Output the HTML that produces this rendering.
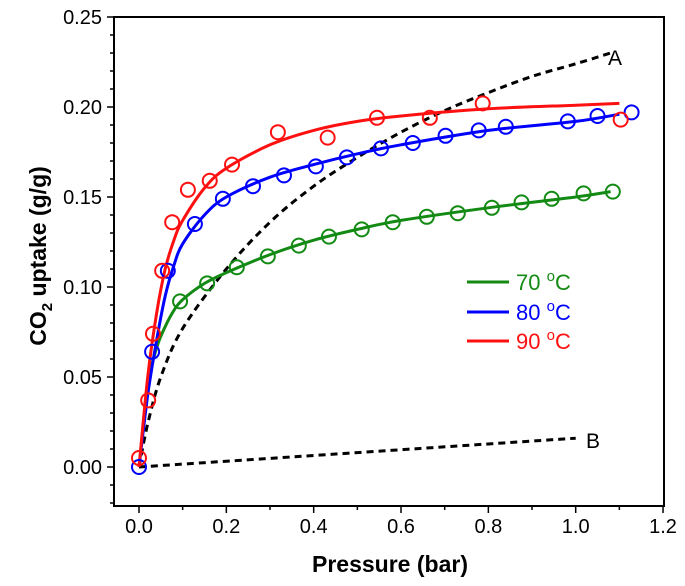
<!DOCTYPE html>
<html><head><meta charset="utf-8"><style>
body{margin:0;background:#fff}
svg{display:block;font-family:"Liberation Sans",Arial,sans-serif}
</style></head><body>
<svg id="c" width="685" height="586"></svg>
<script>
const xTicks=[0,0.2,0.4,0.6,0.8,1.0,1.2];
const xTickLabels=["0.0","0.2","0.4","0.6","0.8","1.0","1.2"];
const yTicks=[0,0.05,0.10,0.15,0.20,0.25];
const yTickLabels=["0.00","0.05","0.10","0.15","0.20","0.25"];
const redPx=[0,0.021,0.032,0.053,0.076,0.112,0.162,0.213,0.318,0.432,0.545,0.666,0.787,1.103];
const redPy=[0.005,0.037,0.074,0.109,0.136,0.154,0.159,0.168,0.186,0.183,0.194,0.194,0.202,0.193];
const bluePx=[0,0.03,0.066,0.128,0.192,0.261,0.332,0.405,0.476,0.554,0.627,0.702,0.778,0.84,0.982,1.05,1.128];
const bluePy=[0,0.064,0.109,0.135,0.149,0.156,0.162,0.167,0.172,0.177,0.18,0.184,0.187,0.189,0.192,0.195,0.197];
const greenPx=[0.094,0.156,0.224,0.295,0.366,0.435,0.51,0.581,0.659,0.73,0.808,0.876,0.945,1.018,1.085];
const greenPy=[0.092,0.102,0.111,0.117,0.123,0.128,0.132,0.136,0.139,0.141,0.144,0.147,0.149,0.152,0.153];
const fitX=[0,0.02,0.04,0.06,0.08,0.1,0.15,0.2,0.3,0.4,0.5,0.6,0.8,1.0,1.1];
const redFit=[0,0.05,0.085,0.11,0.126,0.137,0.155,0.166,0.179,0.187,0.192,0.195,0.199,0.201,0.202];
const blueFit=[0,0.04,0.07,0.095,0.112,0.124,0.14,0.15,0.161,0.168,0.174,0.179,0.187,0.192,0.196];
const greenFitX=[0,0.02,0.04,0.06,0.08,0.1,0.15,0.2,0.3,0.4,0.5,0.6,0.8,1.0,1.08];
const greenFit=[0,0.045,0.066,0.078,0.087,0.093,0.102,0.108,0.118,0.126,0.132,0.137,0.144,0.15,0.153];
const aX=[0,0.02,0.05,0.1,0.2,0.3,0.4,0.5,0.6,0.7,0.8,0.9,1.0,1.08];
const aY=[0,0.024,0.05,0.077,0.11,0.136,0.156,0.172,0.186,0.198,0.208,0.217,0.224,0.23];
const bX=[0,1.0];
const bY=[0,0.016];

const NS="http://www.w3.org/2000/svg";
const svg=document.getElementById('c');
const X0=139,XS=436.7,Y0=467,YS=1800;
const L=114,R=664,T=17,B=506;
function sx(v){return X0+v*XS;}
function sy(v){return Y0-v*YS;}
function mk(tag,attrs,parent){const e=document.createElementNS(NS,tag);for(const k in attrs)e.setAttribute(k,attrs[k]);(parent||svg).appendChild(e);return e;}

const frame=mk('rect',{x:L,y:T,width:R-L,height:B-T,fill:'none',stroke:'#000','stroke-width':2});



for(let v=0;v<=1.2001;v+=0.1){
  const major=Math.abs(v*5-Math.round(v*5))<1e-6;
  const t=mk('line',{x1:sx(v),x2:sx(v),y1:B,y2:B+(major?7:4),stroke:'#000','stroke-width':1.5});
  
  
}
xTicks.forEach((v,i)=>{
  const t=mk('text',{x:sx(v),y:533,'font-size':20,'text-anchor':'middle',fill:'#000'});
  t.textContent=xTickLabels[i];
  
  
});
for(let k=-2;k<=25;k++){
  const v=k/100;
  const major=k%5===0;
  const t=mk('line',{x1:L,x2:L-(major?7:4),y1:sy(v),y2:sy(v),stroke:'#000','stroke-width':1.5});
  
  
}
yTicks.forEach((v,i)=>{
  const t=mk('text',{x:102,y:sy(v)+7,'font-size':20,'text-anchor':'end',fill:'#000'});
  t.textContent=yTickLabels[i];
  
  
});

const xt=mk('text',{x:390,y:572,'font-size':23,'font-weight':'bold','text-anchor':'middle'});
xt.textContent='Pressure (bar)';


const yt=mk('text',{x:0,y:0,'font-size':23,'font-weight':'bold','text-anchor':'middle',transform:'translate(46,256) rotate(-90)'});
yt.innerHTML='CO<tspan font-size="15" dy="6">2</tspan><tspan dy="-6"> uptake (g/g)</tspan>';



function path(xs,ys,color,dash,name,w){
  const P=xs.map((v,i)=>[sx(v),sy(ys[i])]);
  let d='M'+P[0][0].toFixed(1)+','+P[0][1].toFixed(1);
  for(let i=0;i<P.length-1;i++){
    const p0=P[i-1]||P[i],p1=P[i],p2=P[i+1],p3=P[i+2]||P[i+1];
    const c1=[p1[0]+(p2[0]-p0[0])/6,p1[1]+(p2[1]-p0[1])/6];
    const c2=[p2[0]-(p3[0]-p1[0])/6,p2[1]-(p3[1]-p1[1])/6];
    d+='C'+c1.map(n=>n.toFixed(1))+' '+c2.map(n=>n.toFixed(1))+' '+p2.map(n=>n.toFixed(1));
  }
  const p=mk('path',{d:d,fill:'none',stroke:color,'stroke-width':w,'stroke-dasharray':dash||'none','stroke-linejoin':'round'});
  
  
}
function pts(xs,ys,color,name){
  xs.forEach((v,i)=>{
    const c=mk('circle',{cx:sx(v),cy:sy(ys[i]),r:7,fill:'none',stroke:color,'stroke-width':2});
    
    
  });
}
path(aX,aY,'#000','7,5','dashed-line-a',3);
path(bX,bY,'#000','7,5','dashed-line-b',3);
path(greenFitX,greenFit,'#138a13','','fit-70c',3);
path(fitX,blueFit,'#0000ff','','fit-80c',3);
path(fitX,redFit,'#ff1010','','fit-90c',3);
pts(greenPx,greenPy,'#138a13','point-70c');
pts(bluePx,bluePy,'#0000ff','point-80c');
pts(redPx,redPy,'#ff1010','point-90c');

const la=mk('text',{x:608,y:65,'font-size':21});la.textContent='A';


const lb=mk('text',{x:586,y:448,'font-size':21});lb.textContent='B';



const leg=[['70','#138a13',282],['80','#0000ff',312],['90','#ff1010',341]];
leg.forEach(l=>{
  const g=mk('g',{});
  
  
  mk('line',{x1:467,x2:509,y1:l[2],y2:l[2],stroke:l[1],'stroke-width':3},g);
  const t=mk('text',{x:516,y:l[2]+8,'font-size':22,fill:l[1]},g);
  t.innerHTML=l[0]+' <tspan font-size="15" dy="-9">o</tspan><tspan dy="9">C</tspan>';
});
</script>
</body></html>
